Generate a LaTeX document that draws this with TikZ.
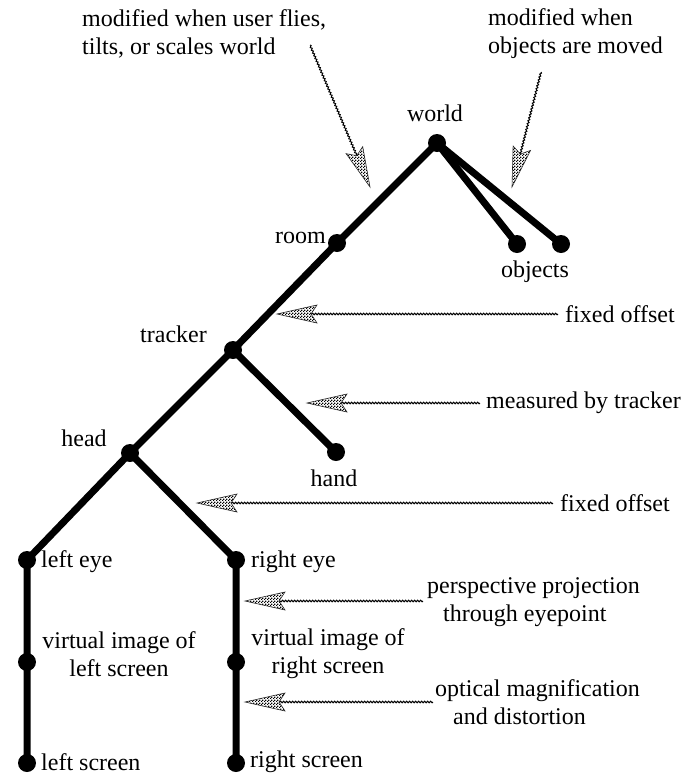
\documentclass[tikz,border=0pt]{standalone}
\usepackage{fontspec}
\setmainfont{Liberation Serif}
\usetikzlibrary{patterns,decorations.pathmorphing,calc}
\pgfdeclarepatternformonly{finecheck}{\pgfpointorigin}{\pgfpoint{3pt}{3pt}}{\pgfpoint{3pt}{3pt}}{%
  \pgfpathrectangle{\pgfpointorigin}{\pgfpoint{1.5pt}{1.5pt}}%
  \pgfpathrectangle{\pgfpoint{1.5pt}{1.5pt}}{\pgfpoint{1.5pt}{1.5pt}}%
  \pgfusepath{fill}}
\newcommand\checkhead[2]{%
  \begin{scope}[shift={(#1)},rotate=#2]
    \fill[pattern=finecheck] (0,0) -- (-40,9) -- (-34,0) -- (-40,-9) -- cycle;
    \draw[line width=0.6pt,black!85] (0,0) -- (-40,9) -- (-34,0) -- (-40,-9) -- cycle;
  \end{scope}}
\begin{document}
\begin{tikzpicture}[x=1pt,y=-1pt,
  every node/.style={font=\fontsize{24}{28}\selectfont},
  dot/.style={circle,fill=black,inner sep=0pt,minimum size=18pt},
  branch/.style={line width=7pt},
  lbl/.style={inner sep=0pt},
  wavy/.style={line width=1pt,decorate,decoration={snake,amplitude=0.8pt,segment length=3pt}}]
\useasboundingbox (0,0) rectangle (688,777);
% tree nodes
\node[dot] (world) at (437,143) {};
\node[dot] (room) at (337,243) {};
\node[dot] (obja) at (517,244) {};
\node[dot] (objb) at (561,244) {};
\node[dot] (tracker) at (233,350) {};
\node[dot] (hand) at (336,452) {};
\node[dot] (head) at (130,453) {};
\node[dot] (leye) at (27,560) {};
\node[dot] (reye) at (236,560) {};
\node[dot] (lvirt) at (27,662) {};
\node[dot] (rvirt) at (236,662) {};
\node[dot] (lscr) at (27,763) {};
\node[dot] (rscr) at (236,763) {};
% branches
\draw[branch] (world.center) -- (room.center) -- (tracker.center) -- (head.center) -- (leye.center) -- (lvirt.center) -- (lscr.center);
\draw[branch] (world.center) -- (obja.center);
\draw[branch] (world.center) -- (objb.center);
\draw[branch] (tracker.center) -- (hand.center);
\draw[branch] (head.center) -- (reye.center) -- (rvirt.center) -- (rscr.center);
% labels
\node[lbl] (lworld) at (435,113) {world};
\node[lbl,anchor=east] (lroom) at (326,238) {room};
\node[lbl] (lobj) at (535,272) {objects};
\node[lbl,anchor=east] (ltracker) at (207,334) {tracker};
\node[lbl] (lhand) at (334,478) {hand};
\node[lbl] (lhead) at (84,438) {head};
\node[lbl,anchor=west] (lleye) at (41,562) {left eye};
\node[lbl,anchor=west] (lreye) at (251,562) {right eye};
\node[lbl,align=center] (llvirt) at (119,654) {virtual image of\\left screen};
\node[lbl,align=center] (lrvirt) at (328,654) {virtual image of\\right screen};
\node[lbl,anchor=west] (llscr) at (41,762) {left screen};
\node[lbl,anchor=west] (lrscr) at (250,762) {right screen};
% annotations
\node[lbl,anchor=west,align=left] (tA) at (82,34) {modified when user flies,\\tilts, or scales world};
\node[lbl,anchor=west,align=left] (tB) at (488,34) {modified when\\objects are moved};
\node[lbl,anchor=west] (tC) at (565,314) {fixed offset};
\node[lbl,anchor=west] (tD) at (486,403) {measured by tracker};
\node[lbl,anchor=west] (tE) at (560,503) {fixed offset};
\node[lbl,anchor=west,align=left] (tF) at (427,602) {perspective projection\\\hspace*{16pt}through eyepoint};
\node[lbl,anchor=west,align=left] (tG) at (435,702) {optical magnification\\\hspace*{18pt}and distortion};
% arrow end points
\coordinate (sA) at (310,45);  \coordinate (hA) at (370,187);
\coordinate (sB) at (541,72);  \coordinate (hB) at (512,187);
\coordinate (sC) at (558,314); \coordinate (hC) at (277,314);
\coordinate (sD) at (480,403); \coordinate (hD) at (307,403);
\coordinate (sE) at (553,503); \coordinate (hE) at (197,503);
\coordinate (sF) at (423,601); \coordinate (hF) at (245,601);
\coordinate (sG) at (433,702); \coordinate (hG) at (245,702);
\foreach \s/\h in {sA/hA,sB/hB,sC/hC,sD/hD,sE/hE,sF/hF,sG/hG}
  \draw[wavy] (\s) -- ($(\h)!34pt!(\s)$);
\checkhead{hA}{-67.1}
\checkhead{hB}{-104.2}
\checkhead{hC}{180}
\checkhead{hD}{180}
\checkhead{hE}{180}
\checkhead{hF}{180}
\checkhead{hG}{180}
\end{tikzpicture}
\end{document}
